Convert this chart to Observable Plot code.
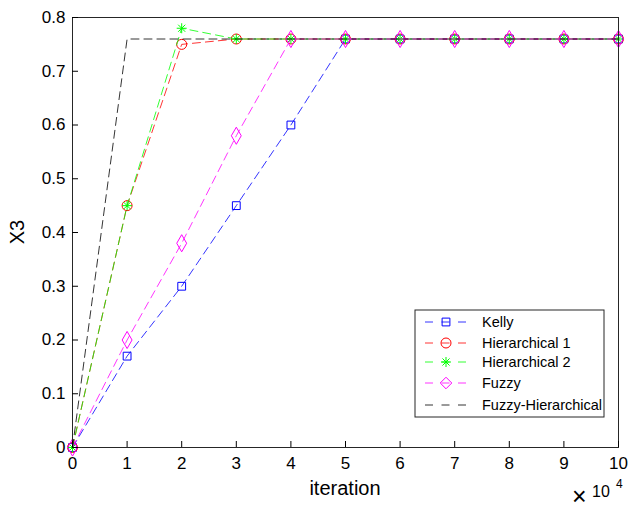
<!DOCTYPE html>
<html>
<head>
<meta charset="utf-8">
<script src="https://cdn.jsdelivr.net/npm/d3@7"></script>
<script src="https://cdn.jsdelivr.net/npm/@observablehq/plot@0.6"></script>
<style>
  html, body { margin: 0; padding: 0; background: #fff; }
  svg { font-family: "Liberation Sans", Arial, sans-serif; }
</style>
</head>
<body>
<div id="chart"></div>
<script>
// ---- data ----
const iterations = [0, 1, 2, 3, 4, 5, 6, 7, 8, 9, 10];           // ×10^4
const kelly      = [0, 0.17, 0.30, 0.45, 0.60, 0.76, 0.76, 0.76, 0.76, 0.76, 0.76];
const hier1      = [0, 0.45, 0.75, 0.76, 0.76, 0.76, 0.76, 0.76, 0.76, 0.76, 0.76];
const hier2      = [0, 0.45, 0.78, 0.76, 0.76, 0.76, 0.76, 0.76, 0.76, 0.76, 0.76];
const fuzzy      = [0, 0.20, 0.38, 0.58, 0.76, 0.76, 0.76, 0.76, 0.76, 0.76, 0.76];
const fuzzyHier  = [0, 0.76, 0.76, 0.76, 0.76, 0.76, 0.76, 0.76, 0.76, 0.76, 0.76];
const seriesNames = ["Kelly", "Hierarchical 1", "Hierarchical 2", "Fuzzy", "Fuzzy-Hierarchical"];
const xTicks = [0, 1, 2, 3, 4, 5, 6, 7, 8, 9, 10];
const yTicks = [0, 0.1, 0.2, 0.3, 0.4, 0.5, 0.6, 0.7, 0.8];

// 8-spoke asterisk like MATLAB '*'
const star8 = {
  draw(ctx, size) {
    const r = Math.sqrt(size / Math.PI);
    const d = r * Math.SQRT1_2;
    ctx.moveTo(-r, 0); ctx.lineTo(r, 0);
    ctx.moveTo(0, -r); ctx.lineTo(0, r);
    ctx.moveTo(-d, -d); ctx.lineTo(d, d);
    ctx.moveTo(-d, d); ctx.lineTo(d, -d);
  }
};

const styles = [
  {name: seriesNames[0], values: kelly, color: "#0000ff", symbol: "square", r: 4.4},
  {name: seriesNames[1], values: hier1, color: "#ff0000", symbol: "circle", r: 5},
  {name: seriesNames[2], values: hier2, color: "#00ff00", symbol: star8, r: 5},
  {name: seriesNames[3], values: fuzzy, color: "#ff00ff", symbol: "diamond", r: 5.2},
  {name: seriesNames[4], values: fuzzyHier, color: "#000000", symbol: null, r: 0}
];

const table = s => iterations.map((x, i) => ({x, y: s.values[i], name: s.name}));

const marks = [];
for (const s of styles) {
  marks.push(Plot.line(table(s), {x: "x", y: "y", stroke: s.color, strokeWidth: 0.8, strokeDasharray: "8,5"}));
  if (s.symbol) {
    marks.push(Plot.dot(table(s), {x: "x", y: "y", stroke: s.color, fill: "none", symbol: s.symbol, r: s.r, strokeWidth: 1}));
  }
}

const plot = Plot.plot({
  width: 628,
  height: 509,
  marginLeft: 72,
  marginRight: 10,
  marginTop: 17,
  marginBottom: 62,
  style: {fontFamily: "Liberation Sans, Arial, sans-serif", fontSize: "17px", color: "#000"},
  x: {domain: [0, 10], label: null},
  y: {domain: [0, 0.8], label: null},
  marks: [
    ...marks,
    Plot.frame({stroke: "#262626", strokeWidth: 1}),
    Plot.axisX(xTicks, {tickSize: 0, tickPadding: 9, fontSize: 17, tickFormat: d => d3.format("d")(d)}),
    Plot.axisX(xTicks, {tickSize: -6, tickFormat: () => ""}),
    Plot.axisY(yTicks, {tickSize: 0, tickPadding: 7, fontSize: 17, tickFormat: d => d === 0 ? "0" : d3.format(".1f")(d)}),
    Plot.axisY(yTicks, {tickSize: -6, tickFormat: () => ""})
  ]
});

document.getElementById("chart").appendChild(plot);

// ---- overlays: axis titles, exponent and legend ----
const svgSel = d3.select(plot);
const xs = plot.scale("x"), ys = plot.scale("y");
const xLeft = xs.apply(0), xRight = xs.apply(10), yBottom = ys.apply(0), yTop = ys.apply(0.8);

svgSel.append("text")
  .attr("x", (xLeft + xRight) / 2).attr("y", yBottom + 48)
  .attr("text-anchor", "middle").attr("font-size", 20).attr("fill", "#000")
  .text("iteration");

svgSel.append("text")
  .attr("transform", `translate(24,${(yTop + yBottom) / 2}) rotate(-90)`)
  .attr("text-anchor", "middle").attr("font-size", 20).attr("fill", "#000")
  .text("X3");

const expo = svgSel.append("g").attr("fill", "#000").attr("text-anchor", "start");
expo.append("text").attr("x", xRight - 46).attr("y", yBottom + 58).attr("font-size", 25).text("\u00d7");
expo.append("text").attr("x", xRight - 26).attr("y", yBottom + 50).attr("font-size", 16).text("10");
expo.append("text").attr("x", xRight - 2).attr("y", yBottom + 41).attr("font-size", 12).text("4");

const lg = svgSel.append("g").attr("transform", "translate(415,310)");
lg.append("rect").attr("width", 189).attr("height", 107)
  .attr("fill", "#fff").attr("stroke", "#262626").attr("stroke-width", 1);
const rowY = [12, 33, 52, 73, 95];
styles.forEach((s, i) => {
  const g = lg.append("g").attr("transform", `translate(0,${rowY[i]})`);
  g.append("line").attr("x1", 10).attr("x2", 56).attr("y1", 0).attr("y2", 0)
    .attr("stroke", s.color).attr("stroke-width", 0.8).attr("stroke-dasharray", "8,8.5");
  if (s.symbol) {
    const sym = typeof s.symbol === "string"
      ? {square: d3.symbolSquare, circle: d3.symbolCircle, diamond: d3.symbolDiamond2}[s.symbol]
      : s.symbol;
    g.append("path").attr("transform", "translate(31,0)")
      .attr("d", d3.symbol(sym, s.r * s.r * Math.PI)())
      .attr("fill", "none").attr("stroke", s.color).attr("stroke-width", 1);
  }
  g.append("text").attr("x", 67).attr("y", 0).attr("dy", "0.35em")
    .attr("text-anchor", "start")
    .attr("font-size", 14.5).attr("fill", "#000").text(s.name);
});
</script>
</body>
</html>
